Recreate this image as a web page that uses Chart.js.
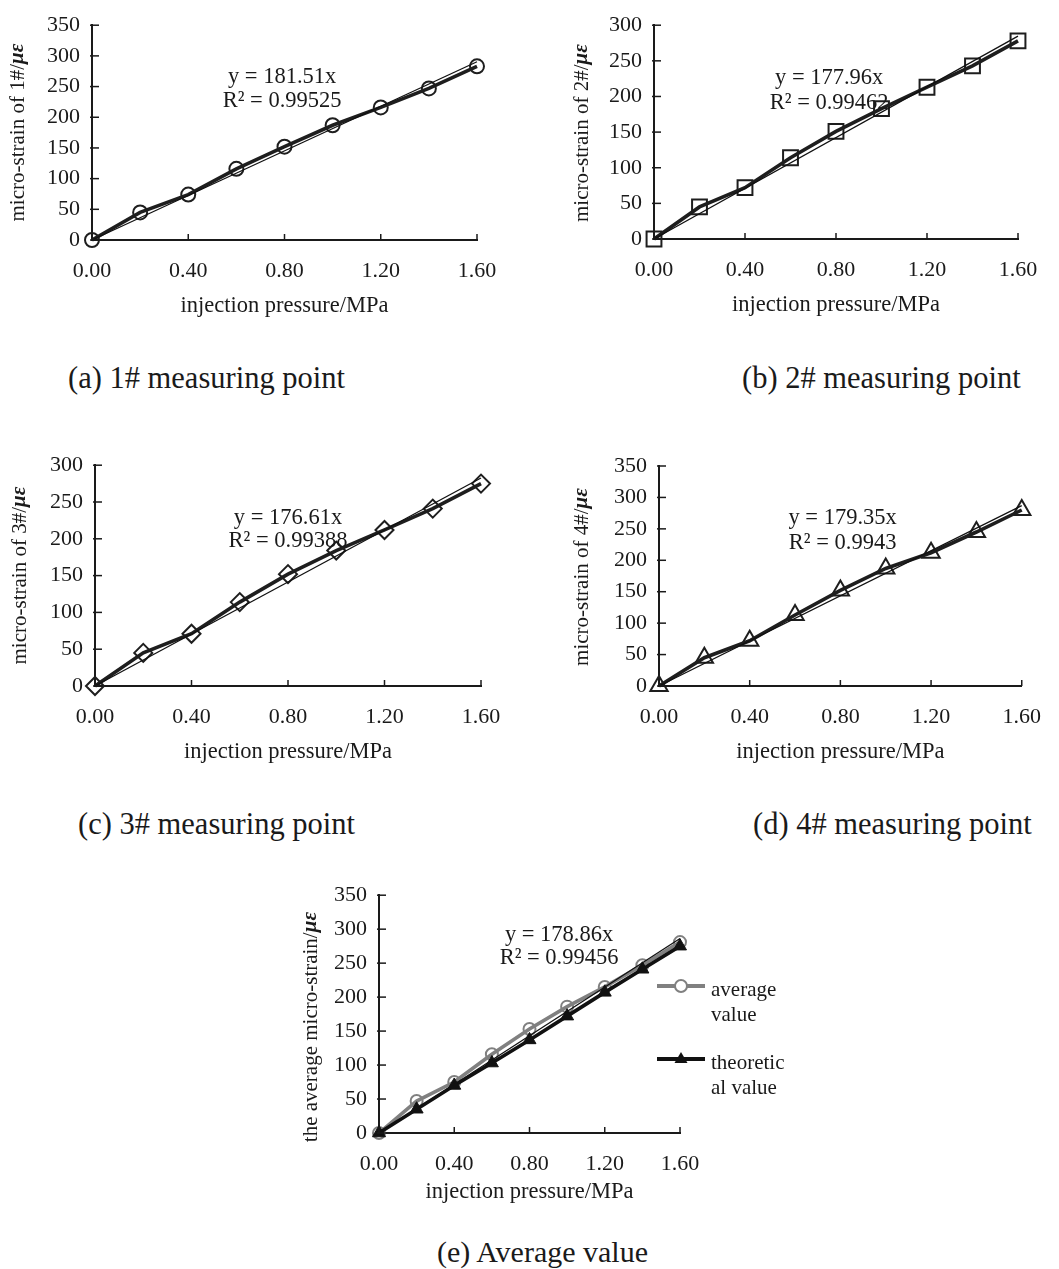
<!DOCTYPE html>
<html>
<head>
<meta charset="utf-8">
<script src="https://cdn.jsdelivr.net/npm/chart.js@4.4.0/dist/chart.umd.min.js"></script>
<style>
  body { margin: 0; background: #fff; width: 1059px; height: 1269px; position: relative; overflow: hidden;
         font-family: "Liberation Serif", "Times New Roman", serif; color: #1a1a1a; }
  canvas { position: absolute; }
  .cap { position: absolute; font-size: 30.5px; line-height: 30.5px; white-space: nowrap; }
</style>
</head>
<body>
<canvas id="chartA"></canvas>
<canvas id="chartB"></canvas>
<canvas id="chartC"></canvas>
<canvas id="chartD"></canvas>
<canvas id="chartE"></canvas>
<div class="cap" style="left:68px;top:363px">(a) 1# measuring point</div>
<div class="cap" style="left:742px;top:363px">(b) 2# measuring point</div>
<div class="cap" style="left:78px;top:809px">(c) 3# measuring point</div>
<div class="cap" style="left:753px;top:809px">(d) 4# measuring point</div>
<div class="cap" style="left:437px;top:1237px;font-size:30px;line-height:30px">(e) Average value</div>
<script>
// data
var pressure = [0, 0.2, 0.4, 0.6, 0.8, 1.0, 1.2, 1.4, 1.6];
var strain1 = [0, 45, 74, 116, 152, 187, 216, 247, 283];
var strain2 = [0, 45, 72, 114, 151, 183, 213, 243, 278];
var strain3 = [0, 45, 71, 114, 152, 184, 212, 241, 275];
var strain4 = [0, 45, 72, 113, 152, 187, 212, 245, 280];
var strainAvg = [0, 47, 75, 116, 153, 186, 215, 247, 281];
var strainTheory = [0, 35, 70, 103, 137, 172, 207, 241, 275];
// linear trend lines y = k x (end value at 1.60 MPa)
var trendEnd = [290.4, 284.7, 282.6, 287.0, 286.2];
var equations = ["y = 181.51x", "y = 177.96x", "y = 176.61x", "y = 179.35x", "y = 178.86x"];
var r2Texts = ["R\u00B2 = 0.99525", "R\u00B2 = 0.99462", "R\u00B2 = 0.99388", "R\u00B2 = 0.9943", "R\u00B2 = 0.99456"];
var xTicks = [0, 0.4, 0.8, 1.2, 1.6];
var yTitles = ["micro-strain of 1#/", "micro-strain of 2#/", "micro-strain of 3#/", "micro-strain of 4#/", "the average micro-strain/"];

var FONT = '"Liberation Serif", "Times New Roman", serif';
var INK = '#1a1a1a';

function pts(ys) {
    return ys.map(function(y, i) { return {x: pressure[i], y: y}; });
}

// draws titles, equation, inside tick marks and (for e) the legend
var decorPlugin = {
    id: 'decor',
    afterDraw: function(chart) {
        var o = chart.options.plugins.decor;
        var ctx = chart.ctx;
        var area = chart.chartArea;
        var xs = chart.scales.x, ys = chart.scales.y;
        ctx.save();
        ctx.strokeStyle = INK;
        ctx.lineWidth = 1.5;
        // inside tick marks
        xTicks.forEach(function(v) {
            var px = xs.getPixelForValue(v);
            ctx.beginPath(); ctx.moveTo(px, area.bottom); ctx.lineTo(px, area.bottom - 6); ctx.stroke();
        });
        ys.ticks.forEach(function(t) {
            var py = ys.getPixelForValue(t.value);
            ctx.beginPath(); ctx.moveTo(area.left - 2, py); ctx.lineTo(area.left + 7, py); ctx.stroke();
        });
        ctx.fillStyle = INK;
        // x title
        ctx.font = '22.5px ' + FONT;
        ctx.textAlign = 'center';
        ctx.textBaseline = 'middle';
        ctx.fillText('injection pressure/MPa', (area.left + area.right) / 2, area.bottom + o.xTitleDy);
        // y title with bold italic unit
        var p1 = o.yTitle, p2 = '\u03BC\u03B5';
        ctx.font = '21px ' + FONT;
        var w1 = ctx.measureText(p1).width;
        ctx.font = 'italic bold 21px ' + FONT;
        var w2 = ctx.measureText(p2).width;
        ctx.translate(o.yTitleX, (area.top + area.bottom) / 2 + o.yTitleDy);
        ctx.rotate(-Math.PI / 2);
        ctx.textAlign = 'left';
        ctx.font = '21px ' + FONT;
        ctx.fillText(p1, -(w1 + w2) / 2, 0);
        ctx.font = 'italic bold 21px ' + FONT;
        ctx.fillText(p2, -(w1 + w2) / 2 + w1, 0);
        ctx.setTransform(chart.currentDevicePixelRatio, 0, 0, chart.currentDevicePixelRatio, 0, 0);
        // trend equation
        ctx.font = '22.5px ' + FONT;
        ctx.textAlign = 'center';
        var ex = xs.getPixelForValue(o.eqX);
        ctx.fillText(o.eq, ex, ys.getPixelForValue(o.eqY1));
        ctx.fillText(o.r2, ex, ys.getPixelForValue(o.eqY2));
        // legend
        if (o.legend) {
            o.legend.forEach(function(item) {
                ctx.strokeStyle = item.color;
                ctx.lineWidth = 3.8;
                ctx.beginPath(); ctx.moveTo(item.x, item.y); ctx.lineTo(item.x + 48, item.y); ctx.stroke();
                var mx = item.x + 24;
                ctx.lineWidth = 2;
                ctx.beginPath();
                if (item.marker === 'circle') {
                    ctx.fillStyle = '#fff';
                    ctx.arc(mx, item.y, 6, 0, Math.PI * 2);
                    ctx.fill(); ctx.stroke();
                } else {
                    ctx.fillStyle = item.color;
                    ctx.moveTo(mx, item.y - 7); ctx.lineTo(mx + 6.5, item.y + 4); ctx.lineTo(mx - 6.5, item.y + 4);
                    ctx.closePath(); ctx.fill();
                }
                ctx.fillStyle = INK;
                ctx.font = '21px ' + FONT;
                ctx.textAlign = 'left';
                ctx.fillText(item.lines[0], item.x + 54, item.y + 4);
                ctx.fillText(item.lines[1], item.x + 54, item.y + 29);
            });
        }
        ctx.restore();
    }
};

// canvas box [left, top, width, height] and target chart area [left, top, right, bottom] in page pixels
function makeChart(id, box, area, yMax, datasets, decor) {
    var el = document.getElementById(id);
    el.width = box[2];
    el.height = box[3];
    el.style.left = box[0] + 'px';
    el.style.top = box[1] + 'px';
    var yAxisW = area[0] - box[0];
    var xAxisH = box[1] + box[3] - area[3];
    return new Chart(el, {
        type: 'line',
        data: { datasets: datasets },
        options: {
            responsive: false,
            animation: false,
            layout: { padding: { left: 0, top: area[1] - box[1], right: box[0] + box[2] - area[2], bottom: 0 } },
            plugins: { legend: { display: false }, tooltip: { enabled: false }, decor: decor },
            scales: {
                x: {
                    type: 'linear', min: 0, max: 1.6,
                    afterBuildTicks: function(s) { s.ticks = xTicks.map(function(v) { return {value: v}; }); },
                    afterFit: function(s) { s.height = xAxisH; },
                    ticks: { callback: function(v) { return Number(v).toFixed(2); }, font: { family: FONT, size: 22 },
                             color: INK, padding: 18, maxRotation: 0, autoSkip: false },
                    grid: { display: false, drawTicks: false },
                    border: { display: true, color: INK, width: 2 }
                },
                y: {
                    min: 0, max: yMax,
                    afterFit: function(s) { s.width = yAxisW; },
                    ticks: { stepSize: 50, font: { family: FONT, size: 22 }, color: INK, padding: 12 },
                    grid: { display: false, drawTicks: false },
                    border: { display: true, color: INK, width: 2 }
                }
            }
        },
        plugins: [decorPlugin]
    });
}

function measured(ys, style, radius) {
    return {
        data: pts(ys), borderColor: '#1e1e1e', borderWidth: 3.6, clip: false,
        pointStyle: style, pointRadius: radius, pointBorderWidth: 2,
        pointBorderColor: '#1e1e1e', pointBackgroundColor: 'rgba(255,255,255,0)'
    };
}
function trend(k) {
    return {
        data: [{x: 0, y: 0}, {x: 1.6, y: trendEnd[k]}], borderColor: '#111', borderWidth: 1.3,
        pointRadius: 0, clip: false
    };
}

makeChart('chartA', [0, 0, 520, 330], [92, 16, 477, 240], 350,
    [trend(0), measured(strain1, 'circle', 7)],
    { yTitle: yTitles[0], yTitleX: 18, yTitleDy: 0, xTitleDy: 66, eq: equations[0], r2: r2Texts[0], eqX: 0.79, eqY1: 266, eqY2: 227 });

makeChart('chartB', [530, 0, 529, 330], [654, 24, 1018, 239], 300,
    [trend(1), measured(strain2, 'rect', 10.5)],
    { yTitle: yTitles[1], yTitleX: 52, yTitleDy: 1, xTitleDy: 66, eq: equations[1], r2: r2Texts[1], eqX: 0.77, eqY1: 226, eqY2: 191 });

makeChart('chartC', [0, 440, 520, 340], [95, 465, 481, 686], 300,
    [trend(2), measured(strain3, 'rectRot', 9)],
    { yTitle: yTitles[2], yTitleX: 20, yTitleDy: 0, xTitleDy: 66, eq: equations[2], r2: r2Texts[2], eqX: 0.80, eqY1: 228, eqY2: 197 });

makeChart('chartD', [560, 440, 499, 340], [659, 466, 1040, 686], 350,
    [trend(3), measured(strain4, 'triangle', 10)],
    { yTitle: yTitles[3], yTitleX: 22, yTitleDy: 1, xTitleDy: 66, eq: equations[3], r2: r2Texts[3], eqX: 0.81, eqY1: 267, eqY2: 228 });

makeChart('chartE', [290, 870, 560, 350], [379, 891, 680, 1133], 350,
    [
        trend(4),
        { data: pts(strainTheory), borderColor: '#111', borderWidth: 3.6, clip: false,
          pointStyle: 'triangle', pointRadius: 7.5, pointBorderWidth: 1, pointBorderColor: '#111', pointBackgroundColor: '#111' },
        { data: pts(strainAvg), borderColor: '#808080', borderWidth: 3.6, clip: false,
          pointStyle: 'circle', pointRadius: 6, pointBorderWidth: 2, pointBorderColor: '#808080', pointBackgroundColor: 'rgba(255,255,255,0)' }
    ],
    { yTitle: yTitles[4], yTitleX: 21, yTitleDy: 13, xTitleDy: 59, eq: equations[4], r2: r2Texts[4], eqX: 0.957, eqY1: 291, eqY2: 257,
      legend: [
          { x: 367, y: 116, color: '#808080', marker: 'circle', lines: ['average', 'value'] },
          { x: 367, y: 189, color: '#111', marker: 'triangle', lines: ['theoretic', 'al value'] }
      ] });
</script>
</body>
</html>
